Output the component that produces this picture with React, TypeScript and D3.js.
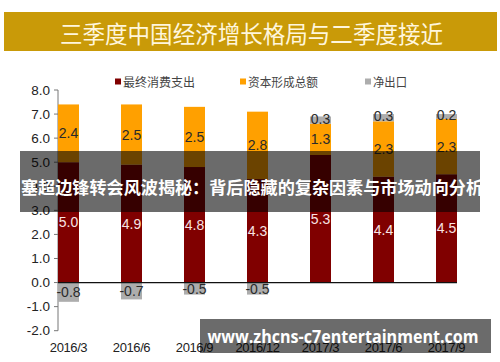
import React from "react";
import * as d3 from "d3";

const categories = ["2016/3", "2016/6", "2016/9", "2016/12", "2017/3", "2017/6", "2017/9"];
const consumption = [5.0, 4.9, 4.8, 4.3, 5.3, 4.4, 4.5];
const capital = [2.4, 2.5, 2.5, 2.8, 1.3, 2.3, 2.3];
const netExport = [-0.8, -0.7, -0.5, -0.5, 0.3, 0.3, 0.2];
const yTicks = [-2, -1, 0, 1, 2, 3, 4, 5, 6, 7, 8];
const seriesNames = ["最终消费支出", "资本形成总额", "净出口"];
const title = "三季度中国经济增长格局与二季度接近";
const overlayText = "塞超边锋转会风波揭秘：背后隐藏的复杂因素与市场动向分析";
const watermark = "www.zhcns-c7entertainment.com";

const colors = ["#800000", "#FFA000", "#ADADAD"];
const labelColors = ["#F8E4E4", "#2a2a2a", "#2a2a2a"];

export default function App() {
  const W = 500, H = 362;
  const x = d3.scaleBand<string>().domain(categories).range([58, 457]).paddingInner(2 / 3).paddingOuter(0);
  const y = d3.scaleLinear().domain([-2, 8]).range([330.7, 90]);
  const bw = x.bandwidth();
  const numFont = "'Liberation Sans', Arial, sans-serif";
  const cjk = "'Noto Sans CJK SC', sans-serif";

  const segs: { i: number; s: number; y0: number; y1: number; v: number }[] = [];
  categories.forEach((c, i) => {
    const c1 = consumption[i];
    segs.push({ i, s: 0, y0: 0, y1: c1, v: consumption[i] });
    const k1 = c1 + capital[i];
    segs.push({ i, s: 1, y0: c1, y1: k1, v: capital[i] });
    if (netExport[i] >= 0) segs.push({ i, s: 2, y0: k1, y1: k1 + netExport[i], v: netExport[i] });
    else segs.push({ i, s: 2, y0: netExport[i], y1: 0, v: netExport[i] });
  });

  const legendX = [115, 240, 365];
  const legendW = [72, 70, 34];

  return (
    <svg width={W} height={H} style={{ position: "absolute", left: 0, top: 0, background: "#fff" }}>
      <rect x={0} y={0} width={W} height={H} fill="#fff" />
      {/* title banner */}
      <rect x={4} y={12} width={493} height={39} fill="#C99A08" />
      <text x={251.5} y={33} textAnchor="middle" dominantBaseline="central" fill="#FFF6DC"
        fontFamily={cjk} fontSize={23.5} textLength={383} lengthAdjust="spacingAndGlyphs">{title}</text>

      {/* legend */}
      {seriesNames.map((n, k) => (
        <g key={n}>
          <rect x={legendX[k]} y={78.5} width={6} height={6} fill={colors[k]} />
          <text x={legendX[k] + 8} y={81.5} dominantBaseline="central" fontFamily={cjk} fontSize={12}
            textLength={legendW[k]} lengthAdjust="spacingAndGlyphs" fill="#444">{n}</text>
        </g>
      ))}

      {/* y axis */}
      <line x1={58} x2={58} y1={y(8)} y2={y(-2)} stroke="#777" strokeWidth={1} />
      {yTicks.map((t) => (
        <g key={t}>
          <line x1={54} x2={58} y1={y(t)} y2={y(t)} stroke="#777" />
          <text x={50} y={y(t)} textAnchor="end" dominantBaseline="central" fontFamily={numFont}
            fontSize={13.5} fill="#222">{t.toFixed(1)}</text>
        </g>
      ))}

      {/* bars */}
      {segs.map((d, j) => (
        <rect key={j} x={x(categories[d.i])!} y={y(d.y1)} width={bw} height={y(d.y0) - y(d.y1)} fill={colors[d.s]} />
      ))}
      {/* zero line */}
      <line x1={58} x2={457} y1={y(0)} y2={y(0)} stroke="#111" strokeWidth={1.2} />

      {/* labels */}
      {segs.map((d, j) => (
        <text key={"l" + j} x={x(categories[d.i])! + bw / 2} y={(y(d.y0) + y(d.y1)) / 2 + (d.s === 2 && d.v > 0 ? -1.5 : 0)}
          textAnchor="middle" dominantBaseline="central" fontFamily={numFont} fontSize={14}
          fill={labelColors[d.s]}>{d.v.toFixed(1)}</text>
      ))}

      {/* x labels */}
      {categories.map((c) => (
        <text key={c} x={x(c)! + bw / 2} y={347} textAnchor="middle" dominantBaseline="central"
          fontFamily={numFont} fontSize={13} letterSpacing={-0.4} fill="#222">{c}</text>
      ))}

      {/* overlay band */}
      <rect x={20} y={151} width={460} height={61} fill="#000" fillOpacity={0.58} />
      <text x={252} y={186} textAnchor="middle" dominantBaseline="central" fill="#fff" fontFamily={cjk}
        fontWeight={700} fontSize={17} textLength={462} lengthAdjust="spacingAndGlyphs">{overlayText}</text>

      {/* watermark */}
      <rect x={200} y={319} width={291} height={34} fill="#000" fillOpacity={0.58} />
      <text x={343} y={336} textAnchor="middle" dominantBaseline="central" fill="#fff"
        fontFamily="'Open Sans', 'DejaVu Sans', sans-serif" fontWeight={700} fontSize={18}
        textLength={271} lengthAdjust="spacingAndGlyphs">{watermark}</text>
    </svg>
  );
}
